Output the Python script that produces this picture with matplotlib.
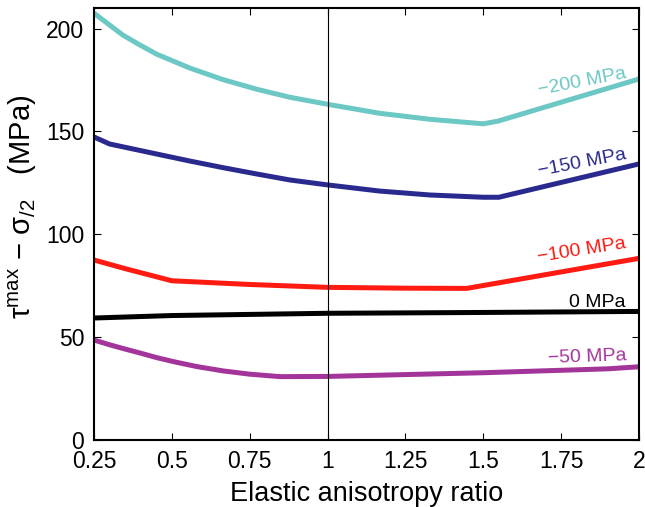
import numpy as np
import matplotlib
matplotlib.use("Agg")
import matplotlib.pyplot as plt

plt.rcParams['font.family'] = ['Liberation Sans', 'DejaVu Sans']
plt.rcParams['mathtext.fontset'] = 'custom'
plt.rcParams['mathtext.rm'] = 'Liberation Sans'
plt.rcParams['mathtext.it'] = 'Liberation Sans:italic'

# -------------------------------
# Data
# -------------------------------
x_200 = [0.25, 0.3, 0.343, 0.4, 0.452, 0.558, 0.664, 0.773, 0.879, 1.0, 1.168, 1.329, 1.5, 1.547, 2.0]
y_200 = [207.5, 201.7, 196.8, 191.8, 187.5, 180.8, 175.2, 170.5, 166.6, 163.2, 158.8, 155.9, 153.7, 155.0, 175.5]

x_150 = [0.25, 0.3, 0.452, 0.558, 0.664, 0.773, 0.879, 1.0, 1.168, 1.329, 1.5, 1.55, 2.0]
y_150 = [147.3, 143.9, 139.0, 135.6, 132.4, 129.3, 126.4, 124.0, 121.0, 119.1, 118.0, 118.0, 134.2]

x_100 = [0.25, 0.35, 0.5, 0.75, 1.0, 1.25, 1.447, 2.0]
y_100 = [87.5, 83.3, 77.4, 75.6, 74.2, 73.8, 73.7, 88.3]

x_0 = [0.25, 0.5, 1.0, 1.5, 2.0]
y_0 = [59.3, 60.5, 61.6, 62.0, 62.5]

x_50 = [0.25, 0.3, 0.35, 0.4, 0.45, 0.505, 0.58, 0.664, 0.75, 0.847, 1.0, 1.5, 1.9, 2.0]
y_50 = [48.6, 46.3, 44.2, 42.2, 40.1, 38.1, 35.7, 33.6, 32.0, 30.8, 30.9, 32.7, 34.6, 35.6]

labels = ['\u2212200 MPa', '\u2212150 MPa', '\u2212100 MPa', '0 MPa', '\u221250 MPa']
colors = ['#6CC8C4', '#2A2A8E', '#FF1A12', '#000000', '#A3359A']

x_ticks = [0.25, 0.5, 0.75, 1, 1.25, 1.5, 1.75, 2]
x_tick_labels = ['0.25', '0.5', '0.75', '1', '1.25', '1.5', '1.75', '2']
y_ticks = [0, 50, 100, 150, 200]

# -------------------------------
# Plot
# -------------------------------
fig = plt.figure(figsize=(6.45, 5.07), dpi=100)
ax = fig.add_axes([94 / 645, 1 - 440 / 507, 545 / 645, 432 / 507])

series = [(x_200, y_200), (x_150, y_150), (x_100, y_100), (x_0, y_0), (x_50, y_50)]
for (xs, ys), c in zip(series, colors):
    ax.plot(xs, ys, color=c, linewidth=3.6, solid_capstyle='butt', solid_joinstyle='round')

ax.axvline(1, color='black', linewidth=0.8)

# curve labels (x, y, rotation)
label_pos = [(1.817, 173.8, 11), (1.817, 134.5, 11), (1.817, 92.0, 9), (1.865, 67.0, 0), (1.835, 40.4, 2)]
for (lx, ly, rot), txt, c in zip(label_pos, labels, colors):
    ax.text(lx, ly, txt, color=c, fontsize=14, rotation=rot,
            ha='center', va='center', rotation_mode='anchor')

ax.set_xlim(0.25, 2)
ax.set_ylim(0, 210)
ax.set_xticks(x_ticks)
ax.set_xticklabels(x_tick_labels)
ax.set_yticks(y_ticks)
ax.tick_params(direction='in', top=True, right=True, labelsize=16.5, length=5, width=0.8, pad=7)
for s in ax.spines.values():
    s.set_linewidth(1.5)

ax.set_xlabel('Elastic anisotropy ratio', fontsize=19.5, labelpad=6)
ax.set_ylabel('\u03c4$^{\\rm max}$ \u2212 \u03c3$_{/2}$   (MPa)', fontsize=21)
ax.yaxis.set_label_coords(-0.1, 0.54)

fig.savefig('out.png', dpi=100)
